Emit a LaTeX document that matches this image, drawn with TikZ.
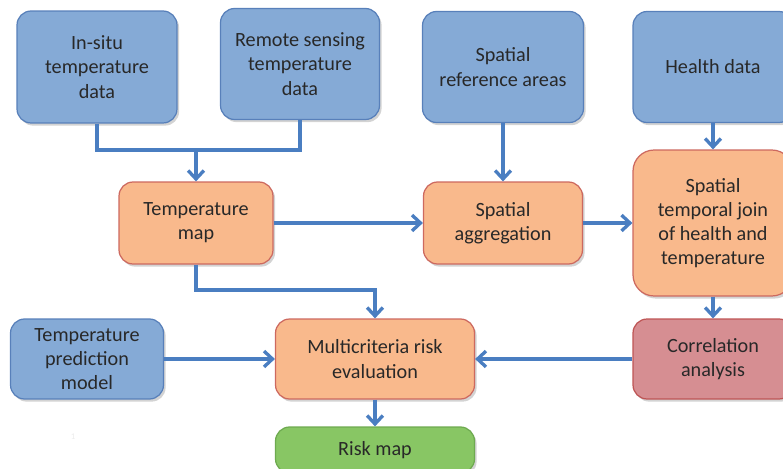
\documentclass[tikz,border=0pt]{standalone}
\usepackage{fontspec}
\setmainfont{Carlito}
\usetikzlibrary{arrows.meta,shadows}
\definecolor{bluefill}{RGB}{133,170,214}
\definecolor{blueline}{RGB}{88,128,186}
\definecolor{orangefill}{RGB}{249,185,140}
\definecolor{orangeline}{RGB}{205,105,95}
\definecolor{rosefill}{RGB}{214,142,146}
\definecolor{roseline}{RGB}{190,85,85}
\definecolor{greenfill}{RGB}{136,198,100}
\definecolor{greenline}{RGB}{110,170,80}
\definecolor{flowblue}{RGB}{74,126,193}
\definecolor{textgray}{RGB}{40,40,40}
\begin{document}
\begin{tikzpicture}[
        x=0.02cm, y=-0.02cm,
        box/.style = {rectangle, rounded corners=8pt, draw, line width=0.7pt, align=center, inner sep=2pt,
                      text=textgray, font=\fontsize{11.5}{13.8}\selectfont,
                      drop shadow={opacity=0.35, shadow xshift=1.2pt, shadow yshift=-1.5pt}},
        source/.style = {box, fill=bluefill, draw=blueline},
        process/.style = {box, fill=orangefill, draw=orangeline},
        analysis/.style = {box, fill=rosefill, draw=roseline},
        result/.style = {box, fill=greenfill, draw=greenline},
        line/.style = {draw=flowblue, line width=1.9pt},
        arrow/.style = {line, -{Straight Barb[length=4.8pt, width=9pt, line width=1.9pt]}}
    ]
    \useasboundingbox (0,0) rectangle (783,469);
    \clip (0,0) rectangle (783,469);

    % ================= FUENTES DE DATOS =================
    \node[source, minimum width=3.2cm, minimum height=2.24cm] (insitu) at (97,67) {In-situ\\temperature\\data};
    \node[source, minimum width=3.18cm, minimum height=2.22cm] (remote) at (300,64) {Remote sensing\\temperature\\data};
    \node[source, minimum width=3.22cm, minimum height=2.22cm] (refareas) at (503,67) {Spatial\\reference areas};
    \node[source, minimum width=3.2cm, minimum height=2.22cm] (health) at (713,67) {Health data};

    % ================= PROCESOS =================
    \node[process, minimum width=3.08cm, minimum height=1.64cm] (tmap) at (196,223) {Temperature\\map};
    \node[process, minimum width=3.18cm, minimum height=1.64cm] (aggreg) at (503,223) {Spatial\\aggregation};
    \node[process, rounded corners=12pt, minimum width=3.2cm, minimum height=2.92cm] (stjoin) at (713,223) {Spatial\\temporal join\\of health and\\temperature};

    \node[source, minimum width=3.06cm, minimum height=1.6cm] (predmodel) at (87,359) {Temperature\\prediction\\model};
    \node[process, minimum width=3.98cm, minimum height=1.6cm] (mcre) at (375,359) {Multicriteria risk\\evaluation};
    \node[analysis, minimum width=3.2cm, minimum height=1.6cm] (correl) at (713,359) {Correlation\\analysis};

    \node[result, minimum width=3.98cm, minimum height=0.92cm] (riskmap) at (375,450) {Risk map};

    \node[font=\tiny, text=black!8] (pagenum) at (73,437) {1};

    % ================= CONECTORES =================
    \coordinate (merge) at (196,150);
    \coordinate (bend) at (375,290);

    \draw[line] (insitu.south) |- (merge) -| (remote.south);
    \draw[arrow] (merge) -- (tmap.north);
    \draw[arrow] (refareas.south) -- (aggreg.north);
    \draw[arrow] (health.south) -- (stjoin.north);

    \draw[arrow] (tmap.east) -- (aggreg.west);
    \draw[arrow] (aggreg.east) -- (stjoin.west);
    \draw[arrow] (tmap.south) |- (bend) -- (mcre.north);
    \draw[arrow] (stjoin.south) -- (correl.north);

    \draw[arrow] (predmodel.east) -- (mcre.west);
    \draw[arrow] (correl.west) -- (mcre.east);
    \draw[arrow] (mcre.south) -- (riskmap.north);

\end{tikzpicture}
\end{document}
